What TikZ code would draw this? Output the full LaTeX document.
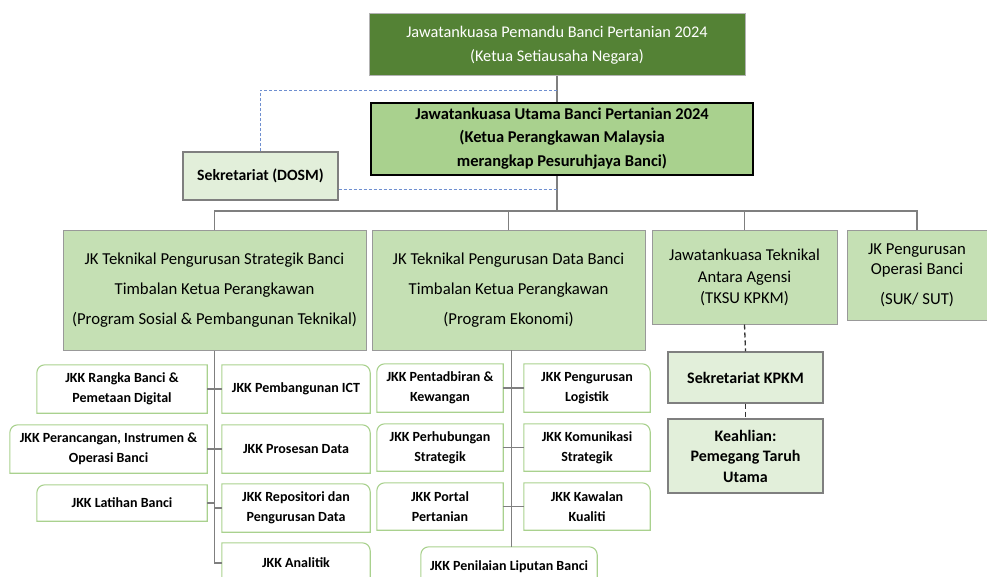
\documentclass[tikz,border=0pt]{standalone}
\usepackage{fontspec}
\setmainfont{Carlito}

\definecolor{darkleaf}{HTML}{548235}
\definecolor{midleaf}{HTML}{A9D18E}
\definecolor{lightleaf}{HTML}{C5E0B4}
\definecolor{paleleaf}{HTML}{E2EFDA}
\definecolor{jkkedge}{HTML}{A9D18E}
\definecolor{linkgray}{HTML}{7F7F7F}
\definecolor{dosmblue}{HTML}{6F8FD0}

\begin{document}
\begin{tikzpicture}[x=1pt,y=-1pt,
    box/.style={draw, inner sep=1pt, align=center, text=black},
    jkbox/.style={box, fill=lightleaf, draw=linkgray!80, line width=1pt},
    sekbox/.style={box, fill=paleleaf, draw=linkgray, line width=1.2pt},
    jkkbox/.style={inner sep=1pt, align=center, text=black,
      font=\bfseries\fontsize{14}{20}\selectfont},
    jkkline/.style={draw=jkkedge, line width=1.1pt},
    orgline/.style={draw=linkgray, line width=1.4pt},
    kpkmline/.style={draw=black!80, line width=1.3pt, dash pattern=on 5pt off 3pt},
    dosmline/.style={draw=dosmblue, line width=0.8pt, densely dashed}]

  \useasboundingbox (0,0) rectangle (987,577);
  \clip (0,0) rectangle (987,577);

  % Nodes
  \node[box, fill=darkleaf, draw=linkgray!60, line width=1pt, text=white,
    minimum width=376pt, minimum height=62pt,
    font=\fontsize{16.3}{24}\selectfont] (pemandu) at (557,45)
    {Jawatankuasa Pemandu Banci Pertanian 2024\\(Ketua Setiausaha Negara)};
  \node[box, fill=midleaf, draw=black, line width=1.8pt, text=black,
    minimum width=382pt, minimum height=72pt, text depth=4pt,
    font=\bfseries\fontsize{16.5}{23.5}\selectfont] (utama) at (562,139)
    {Jawatankuasa Utama Banci Pertanian 2024\\(Ketua Perangkawan Malaysia\\merangkap Pesuruhjaya Banci)};
  \node[sekbox, minimum width=155pt, minimum height=48pt,
    font=\bfseries\fontsize{15.7}{20}\selectfont] (dosm) at (260.5,176) {Sekretariat (DOSM)};

  \begin{scope}[every node/.style={jkbox}]
    \node[minimum width=303pt, minimum height=119pt, font=\fontsize{16.7}{30}\selectfont]
      (jk1) at (214.5,290.5)
      {JK Teknikal Pengurusan Strategik Banci\\Timbalan Ketua Perangkawan\\(Program Sosial \& Pembangunan Teknikal)};
    \node[minimum width=273pt, minimum height=119pt, font=\fontsize{16.7}{30}\selectfont]
      (jk2) at (508.5,290.5)
      {JK Teknikal Pengurusan Data Banci\\Timbalan Ketua Perangkawan\\(Program Ekonomi)};
    \node[minimum width=185pt, minimum height=93pt, font=\fontsize{16.6}{21.5}\selectfont]
      (jk3) at (744.5,277.5)
      {Jawatankuasa Teknikal\\Antara Agensi\\(TKSU KPKM)};
    \node[minimum width=140pt, minimum height=89pt, font=\fontsize{16.7}{20}\selectfont]
      (jk4) at (917,275.5)
      {JK Pengurusan\\Operasi Banci\\[10pt](SUK/ SUT)};
  \end{scope}

  \begin{scope}[every node/.style={sekbox, minimum width=155pt,
      font=\bfseries\fontsize{16}{20.5}\selectfont}]
    \node[minimum height=51pt] (kpkm) at (745.5,377.5) {Sekretariat KPKM};
    \node[minimum height=74pt] (keahlian) at (745.5,456) {Keahlian:\\Pemegang Taruh\\Utama};
  \end{scope}

  \begin{scope}[every node/.style={jkkbox}]
    \node[minimum width=170pt, minimum height=48pt] (rangka) at (122,389) {JKK Rangka Banci \&\\Pemetaan Digital};
    \node[minimum width=197pt, minimum height=48pt] (perancangan) at (108.5,449) {JKK Perancangan, Instrumen \&\\Operasi Banci};
    \node[minimum width=170pt, minimum height=36pt] (latihan) at (122,503) {JKK Latihan Banci};

    \node[minimum width=148pt, minimum height=48pt] (ict) at (296,389) {JKK Pembangunan ICT};
    \node[minimum width=148pt, minimum height=48pt] (prosesan) at (296,449) {JKK Prosesan Data};
    \node[minimum width=148pt, minimum height=48pt] (repositori) at (296,508) {JKK Repositori dan\\Pengurusan Data};
    \node[minimum width=148pt, minimum height=40pt] (analitik) at (296,563) {JKK Analitik};

    \node[minimum width=126pt, minimum height=48pt] (pentadbiran) at (440,388) {JKK Pentadbiran \&\\Kewangan};
    \node[minimum width=126pt, minimum height=47pt] (perhubungan) at (440,447.5) {JKK Perhubungan\\Strategik};
    \node[minimum width=126pt, minimum height=47pt] (portal) at (440,506.5) {JKK Portal\\Pertanian};

    \node[minimum width=126pt, minimum height=48pt] (logistik) at (587,388) {JKK Pengurusan\\Logistik};
    \node[minimum width=126pt, minimum height=47pt] (komunikasi) at (587,447.5) {JKK Komunikasi\\Strategik};
    \node[minimum width=126pt, minimum height=47pt] (kawalan) at (587,506.5) {JKK Kawalan\\Kualiti};

    \node[minimum width=176pt, minimum height=40pt] (penilaian) at (509,567) {JKK Penilaian Liputan Banci};
  \end{scope}

  % JKK outlines, one corner cut round
  \foreach \n in {rangka,perancangan,latihan,pentadbiran,perhubungan,portal}
    \draw[jkkline] (\n.south west) -- ([yshift=-8pt]\n.north west)
      arc[start angle=180, end angle=90, radius=8pt] -- (\n.north east)
      -- (\n.south east) -- cycle;
  \foreach \n in {ict,prosesan,repositori,analitik,logistik,komunikasi,kawalan}
    \draw[jkkline] (\n.south west) -- (\n.north west) -- ([xshift=-8pt]\n.north east)
      arc[start angle=90, end angle=0, radius=8pt] -- (\n.south east) -- cycle;
  \draw[jkkline] (penilaian.south west) -- ([yshift=-8pt]penilaian.north west)
    arc[start angle=180, end angle=90, radius=8pt] -- ([xshift=-8pt]penilaian.north east)
    arc[start angle=90, end angle=0, radius=8pt] -- (penilaian.south east) -- cycle;

  % Edges
  \coordinate (bus) at (557,211);
  \coordinate (pj) at (557,90);
  \coordinate (uj) at (557,189);
  \coordinate (spine) at (511.5,350);

  \begin{scope}[every path/.style={orgline}]
    \draw (pemandu.south) -- (utama.north -| pemandu.south);
    \draw (utama.south -| pemandu.south) -- (bus);
    \draw (jk1.north) |- (bus) -| (jk4.north);
    \draw (jk2.north) -- (jk2.north |- bus);
    \draw (jk3.north) -- (jk3.north |- bus);

    \draw (jk1.south) |- (analitik.west);
    \foreach \n in {rangka,perancangan,latihan}
      \draw (\n.east) -- (\n.east -| jk1.south);
    \foreach \n in {ict,prosesan,repositori}
      \draw (\n.west) -- (\n.west -| jk1.south);

    \draw (spine) -- (penilaian.north -| spine);
    \foreach \a/\b in {pentadbiran/logistik,perhubungan/komunikasi,portal/kawalan}
      \draw (\a.east) -- (\b.west);
  \end{scope}

  \draw[kpkmline] (jk3.south) -- (kpkm.north);
  \draw[kpkmline] (kpkm.south) -- (keahlian.north);

  \draw[dosmline] (dosm.north) |- (pj);
  \draw[dosmline] ([yshift=-13pt]dosm.east) -- (uj);

\end{tikzpicture}
\end{document}
